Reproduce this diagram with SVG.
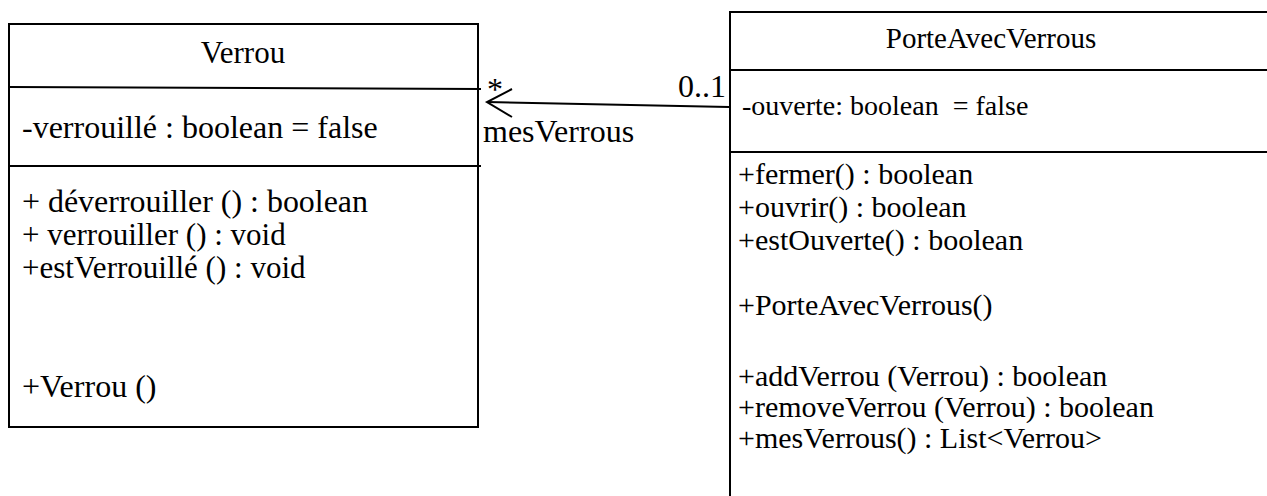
<svg xmlns="http://www.w3.org/2000/svg" width="1267" height="496" viewBox="0 0 1267 496">
<style>
.ln{stroke:#000;stroke-width:2;fill:none}
text{font-family:'Liberation Serif','Times New Roman',Times,serif;fill:#000}
.tl{font-size:32px}
.tt{font-size:31px}
.tm{font-size:31px}
.tr{font-size:30px}
.th{font-size:29px}
.ta{font-size:28px}
</style>
<rect width="1267" height="496" fill="#fff"/>
<g id="Verrou">
<rect class="ln" x="9" y="24" width="469" height="403"/>
<line class="ln" x1="9" y1="87" x2="481" y2="89"/>
<line class="ln" x1="9" y1="166" x2="481" y2="166"/>
<text class="tt" x="243" y="63" text-anchor="middle">Verrou</text>
<text class="tl" x="22" y="138">-verrouillé : boolean = false</text>
<text class="tm" x="22" y="212" textLength="346" lengthAdjust="spacingAndGlyphs">+ déverrouiller () : boolean</text>
<text class="tm" x="22" y="245">+ verrouiller () : void</text>
<text class="tm" x="22" y="278">+estVerrouillé () : void</text>
<text class="tl" x="22" y="397">+Verrou ()</text>
</g>
<g id="PorteAvecVerrous">
<path class="ln" d="M1268,12 H730 V497"/>
<line class="ln" x1="731" y1="70" x2="1268" y2="70"/>
<line class="ln" x1="731" y1="152" x2="1268" y2="152"/>
<text class="th" x="991" y="48" text-anchor="middle">PorteAvecVerrous</text>
<text class="ta" x="742" y="115" xml:space="preserve">-ouverte: boolean  = false</text>
<text class="tr" x="738" y="184">+fermer() : boolean</text>
<text class="tr" x="738" y="217">+ouvrir() : boolean</text>
<text class="tr" x="738" y="250">+estOuverte() : boolean</text>
<text class="tr" x="738" y="315">+PorteAvecVerrous()</text>
<text class="tr" x="738" y="386">+addVerrou (Verrou) : boolean</text>
<text class="tr" x="738" y="417">+removeVerrou (Verrou) : boolean</text>
<text class="tr" x="738" y="448">+mesVerrous() : List&lt;Verrou&gt;</text>
</g>
<g id="connectors">
<line class="ln" x1="729" y1="107" x2="487" y2="102"/>
<polyline class="ln" points="512,89 487,102 512,117"/>
<text class="tl" x="487" y="100">*</text>
<text class="tl" x="726" y="97" text-anchor="end">0..1</text>
<text class="tl" x="483" y="142">mesVerrous</text>
</g>
</svg>
